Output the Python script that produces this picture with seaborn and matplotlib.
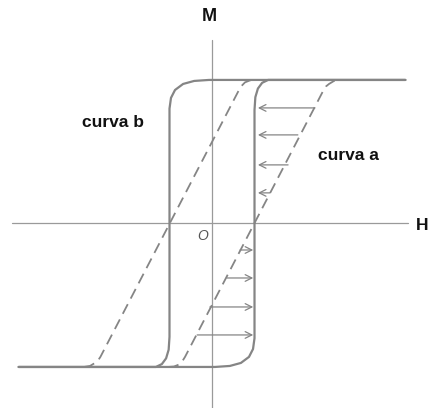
"""Hysteresis loop sketch: curva a / curva b with shifted branches"""

import matplotlib.pyplot as plt
import seaborn as sns

# solid loop, ascending branch (H, M) in units of Hc and Ms
asc_h = [-4.55, 0.07, 0.42, 0.68, 0.87, 0.965, 1.0, 1.0, 1.02, 1.08, 1.18, 1.32, 4.55]
asc_m = [-1.0, -1.0, -0.993, -0.972, -0.93, -0.875, -0.80, 0.79, 0.88, 0.94, 0.98, 1.0, 1.0]
# solid loop, descending branch
desc_h = [4.55, -0.07, -0.42, -0.68, -0.87, -0.965, -1.0, -1.0, -1.02, -1.08, -1.18, -1.32, -4.55]
desc_m = [1.0, 1.0, 0.993, 0.972, 0.93, 0.875, 0.80, -0.79, -0.88, -0.94, -0.98, -1.0, -1.0]

# dashed curves
dash_a_h = [-1.035, -0.894, -0.776, -0.694, -0.635, 2.626, 2.682, 2.753, 2.87, 3.01]
dash_a_m = [-1.0, -0.997, -0.983, -0.958, -0.93, 0.93, 0.955, 0.972, 0.993, 1.0]
dash_b_h = [-3.01, -2.87, -2.753, -2.682, -2.626, 0.635, 0.694, 0.776, 0.894, 1.035]
dash_b_m = [-1.0, -0.993, -0.972, -0.955, -0.93, 0.93, 0.958, 0.983, 0.997, 1.0]

# arrows between dashed curve a and the solid loop
up_arrow_m = [0.805, 0.617, 0.408, 0.213]
up_arrow_start = [2.42, 2.02, 1.79, 1.36]
up_arrow_end = [1.08, 1.08, 1.08, 1.08]
low_arrow_m = [-0.185, -0.38, -0.582, -0.777]
low_arrow_start = [0.66, 0.35, -0.05, -0.35]
low_arrow_end = [0.97, 0.97, 0.97, 0.97]

# axes lines
h_axis_h = [-4.7, 4.6]
h_axis_m = [0.005, 0.005]
m_axis_h = [0.0, 0.0]
m_axis_m = [1.28, -1.29]

LOOP = '#858585'
AXIS = '#9a9a9a'

sns.set_theme(style='white')
plt.rcParams['font.family'] = ['Liberation Sans', 'DejaVu Sans']

fig = plt.figure(figsize=(4.3, 4.08), dpi=100)
ax = fig.add_axes([0, 0, 1, 1])

sns.lineplot(x=h_axis_h, y=h_axis_m, sort=False, estimator=None, color=AXIS, linewidth=0.9, ax=ax)
sns.lineplot(x=m_axis_h, y=m_axis_m, sort=False, estimator=None, color=AXIS, linewidth=0.9, ax=ax)

sns.lineplot(x=asc_h, y=asc_m, sort=False, estimator=None, color=LOOP, linewidth=1.6, ax=ax)
sns.lineplot(x=desc_h, y=desc_m, sort=False, estimator=None, color=LOOP, linewidth=1.6, ax=ax)
sns.lineplot(x=dash_a_h, y=dash_a_m, sort=False, estimator=None, color=LOOP, linewidth=1.3,
             linestyle=(0, (6, 3.5)), ax=ax)
sns.lineplot(x=dash_b_h, y=dash_b_m, sort=False, estimator=None, color=LOOP, linewidth=1.3,
             linestyle=(0, (6, 3.5)), ax=ax)

arrow_kw = dict(arrowstyle='->', color=LOOP, lw=0.9, shrinkA=0, shrinkB=0, mutation_scale=12)
for m, h0, h1 in zip(up_arrow_m, up_arrow_start, up_arrow_end):
    ax.annotate('', xy=(h1, m), xytext=(h0, m), arrowprops=arrow_kw)
for m, h0, h1 in zip(low_arrow_m, low_arrow_start, low_arrow_end):
    ax.annotate('', xy=(h1, m), xytext=(h0, m), arrowprops=arrow_kw)

ax.text(-0.07, 1.408, 'M', ha='center', va='baseline', fontsize=13, fontweight='bold', color='#111111')
ax.text(4.8, -0.045, 'H', ha='left', va='baseline', fontsize=12.5, fontweight='bold', color='#111111')
ax.text(-2.33, 0.672, 'curva b', ha='center', va='baseline', fontsize=12.5, fontweight='bold', color='#111111')
ax.text(3.2, 0.443, 'curva a', ha='center', va='baseline', fontsize=12.5, fontweight='bold', color='#111111')
ax.text(-0.353, -0.115, 'O', ha='left', va='baseline', fontsize=10, fontstyle='italic', color='#555555')

ax.set_xlim(-4.988, 5.129)
ax.set_ylim(-1.286, 1.557)
ax.axis('off')

fig.savefig('out.png', dpi=100)
